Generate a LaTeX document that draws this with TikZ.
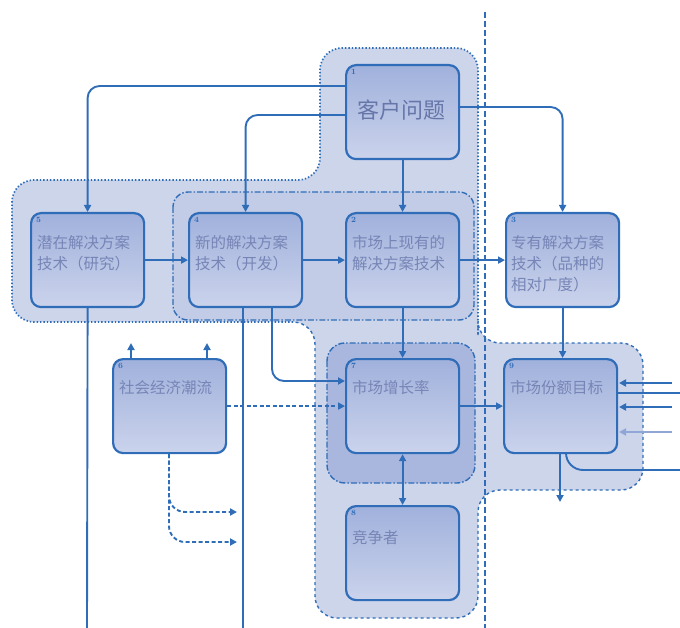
\documentclass[tikz,border=0pt]{standalone}
\usepackage{fontspec}
\newfontfamily\cjk{Noto Sans CJK SC}
\usetikzlibrary{arrows.meta}
\definecolor{lineblue}{HTML}{2F6DB8}
\definecolor{regfill}{HTML}{CDD5EB}
\definecolor{regfilltwo}{HTML}{C3CCE7}
\definecolor{regdark}{HTML}{A9B7DF}
\definecolor{boxtop}{HTML}{A0B1DC}
\definecolor{boxbot}{HTML}{CBD3EC}
\definecolor{txt}{HTML}{7685B6}
\definecolor{txtdark}{HTML}{6676A9}
\definecolor{lightline}{HTML}{8FA6D6}
\tikzset{
  box/.style={draw=lineblue, line width=2.2pt, rounded corners=10pt, top color=boxtop, bottom color=boxbot,
    minimum width=113pt, minimum height=94pt, anchor=north west, inner sep=0pt},
  boxtxt/.style={anchor=north west, inner sep=0pt, text=txt, align=left,
    font=\cjk\fontsize{15.5}{21}\selectfont},
  num/.style={anchor=north west, inner sep=0pt, text=lineblue, font=\bfseries\fontsize{8}{9}\selectfont},
  conn/.style={draw=lineblue, line width=1.9pt, rounded corners=12pt},
  arr/.style={-{Triangle[length=7pt,width=7pt]}},
  dashconn/.style={conn, dash pattern=on 4pt off 2.5pt},
  regline/.style={draw=lineblue, line width=1.4pt, rounded corners=22pt},
}
\begin{document}
\begin{tikzpicture}[x=1pt,y=-1pt]
\useasboundingbox (0,0) rectangle (680,628);
% regions
\fill[regfill, rounded corners=22pt] (12,180) -- (320,180) -- (320,48) -- (478,48) -- (478,343) -- (643,343)
  -- (643,490) -- (478,490) -- (478,618) -- (315,618) -- (315,322) -- (12,322) -- cycle;
\draw[regline, dotted, line width=1.7pt] (293,322) -- (12,322) -- (12,180) -- (320,180) -- (320,48) -- (478,48) -- (478,335);
\draw[regline, dashed] (478,335) -- (478,343) -- (643,343) -- (643,490) -- (478,490) -- (478,618) -- (315,618) -- (315,322) -- (293,322);
\draw[regline, rounded corners=15pt, fill=regfilltwo, dash pattern=on 6pt off 2pt on 1.5pt off 2pt] (173,192) rectangle (474,320);
\draw[regline, rounded corners=18pt, fill=regdark, dash pattern=on 6pt off 2pt on 1.5pt off 2pt] (327,343) rectangle (475,483);
\draw[lineblue, line width=1.4pt, dash pattern=on 6pt off 3pt] (485,12) -- (485,628);
% boxes
\node[box] (b1) at (345,64) {};
\node[box] (b5) at (30,212) {};
\node[box] (b4) at (188,212) {};
\node[box] (b2) at (345,212) {};
\node[box] (b3) at (505,212) {};
\node[box] (b6) at (112,358) {};
\node[box] (b7) at (345,358) {};
\node[box] (b9) at (503,358) {};
\node[box] (b8) at (345,505) {};
% numbers
\node[num] (n1) at (351,69) {1};
\node[num] (n5) at (36,217) {5};
\node[num] (n4) at (194,217) {4};
\node[num] (n2) at (351,217) {2};
\node[num] (n3) at (511,217) {3};
\node[num] (n6) at (118,363) {6};
\node[num] (n7) at (351,363) {7};
\node[num] (n9) at (509,363) {9};
\node[num] (n8) at (351,510) {8};
% texts
\node[inner sep=0pt, text=txtdark, font=\cjk\fontsize{22}{26}\selectfont] (t1) at (401,110) {客户问题};
\node[boxtxt] (t5) at (37,235) {潜在解决方案\\技术（研究）};
\node[boxtxt] (t4) at (195,235) {新的解决方案\\技术（开发）};
\node[boxtxt] (t2) at (352,235) {市场上现有的\\解决方案技术};
\node[boxtxt] (t3) at (511,235) {专有解决方案\\技术（品种的\\相对广度）};
\node[boxtxt] (t6) at (119,380) {社会经济潮流};
\node[boxtxt] (t7) at (352,380) {市场增长率};
\node[boxtxt] (t9) at (510,380) {市场份额目标};
\node[boxtxt] (t8) at (352,530) {竞争者};
% coordinates for free ends
\coordinate (e5) at (87,628);
\coordinate (e4) at (243,628);
\coordinate (u1) at (131,343);
\coordinate (u2) at (207,343);
\coordinate (d1) at (237,512);
\coordinate (d2) at (237,542);
\coordinate (d9) at (560,502);
\coordinate (r1) at (672,383);
\coordinate (r2) at (680,393);
\coordinate (r3) at (672,407);
\coordinate (r4) at (672,432);
\coordinate (r5) at (680,470);
% connectors
\draw[conn,arr] (b1.west |- 0,86) -| (b5.north);
\draw[conn,arr] (b1.west |- 0,115) -| (b4.north);
\draw[conn,arr] (b1.south) -- (b2.north);
\draw[conn,arr] (b1.east |- 0,107) -| (b3.north);
\draw[conn,arr] (b5.east) -- (b4.west);
\draw[conn,arr] (b4.east) -- (b2.west);
\draw[conn,arr] (b2.east) -- (b3.west);
\draw[conn,arr] (b2.south) -- (b7.north);
\draw[conn,arr] (b3.south) -- (b3.south |- b9.north);
\draw[conn] (b5.south) -- (e5);
\draw[conn] (243,0 |- b4.south) -- (e4);
\draw[conn,arr] (272,0 |- b4.south) |- (b7.west |- 0,381);
\draw[dashconn,arr] (b6.east) -- (b7.west |- b6.east);
\draw[conn,arr] (u1 |- b6.north) -- (u1);
\draw[conn,arr] (u2 |- b6.north) -- (u2);
\draw[dashconn,arr,rounded corners=16pt] (169,0 |- b6.south) |- (d1);
\draw[dashconn,arr,rounded corners=16pt] (169,0 |- b6.south) |- (d2);
\draw[conn,arr] (b7.east) -- (b9.west);
\draw[conn,{Triangle[length=7pt,width=7pt]}-{Triangle[length=7pt,width=7pt]}] (b7.south) -- (b8.north);
\draw[conn,arr] (d9 |- b9.south) -- (d9);
\draw[conn,rounded corners=17pt] (566,0 |- b9.south) |- (r5);
\draw[conn,arr] (r1) -- (619,383);
\draw[conn] (b9.east |- r2) -- (r2);
\draw[conn,arr] (r3) -- (619,407);
\draw[conn,arr,draw=lightline,line width=2.6pt] (r4) -- (619,432);
\end{tikzpicture}
\end{document}
